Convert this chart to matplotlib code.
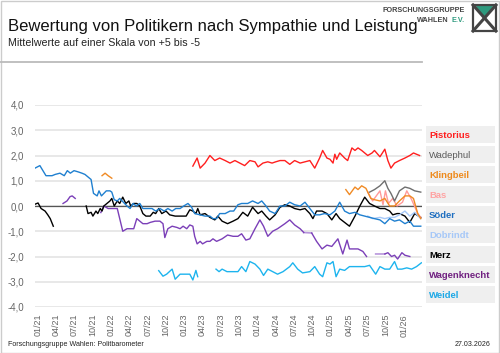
import numpy as np
import matplotlib
matplotlib.use('Agg')
import matplotlib.pyplot as plt
from matplotlib.patches import Rectangle, Polygon
from matplotlib.lines import Line2D

plt.rcParams['font.family'] = ['Liberation Sans', 'DejaVu Sans']

nan = np.nan

# months since 01/2021, values on the +5..-5 scale (nan = gap)
soeder_m = [-0.5, 0.3, 1.3, 2.3, 2.8, 3.6, 4.3, 4.8, 5.3, 5.9, 6.6, 7.2, 7.7, 8.2, 8.7,
            9.1, 9.7, 10.0, 10.4, 10.8, 11.2, 11.8, 12.1, 12.5, 13.0, 13.4, 13.8, 14.2, 14.6, 15.1,
            15.6, 16.1, 16.7, 17.2, 18.0, 18.7, 19.3, 20.0, 20.7, 21.3, 22.0, 22.6, 23.3, 23.9, 24.6,
            25.2, 25.7, 26.6, 27.4, 28.2, 28.7, 29.3, 29.8, 30.7, 31.5, 32.1, 32.8, 33.4, 34.4, 35.2,
            36.1, 36.7, 37.4, 38.0, 38.9, 39.7, 40.5, 41.3, 42.1, 43.0, 43.8, 44.6, 45.4, 46.2, 47.0,
            47.9, 48.7, 49.5, 50.3, 51.1, 52.0, 52.8, 53.6, 54.4, 55.2, 56.1, 56.9, 57.7, 58.5, 59.3,
            60.2, 61.0, 61.6, 62.3, 62.8]
soeder_v = [1.5, 1.6, 1.2, 1.2, 1.25, 1.3, 1.2, 1.4, 1.3, 1.4, 1.35, 1.3, 1.25, 1.15, 1.05,
            0.5, 0.4, 0.6, 0.4, 0.5, 0.6, 0.6, 0.55, 0.25, 0.2, 0.3, 0.2, 0.1, 0.0, -0.1,
            0.1, 0.0, 0.1, -0.1, -0.1, -0.1, -0.2, -0.1, -0.2, -0.1, -0.2, -0.1, -0.1, 0.0, 0.1,
            -0.05, -0.3, -0.35, -0.4, -0.4, -0.5, -0.5, -0.3, -0.3, -0.2, -0.2, 0.05, 0.1, 0.1, 0.2,
            0.1, 0.2, 0.0, -0.2, -0.3, 0.0, 0.0, 0.15, 0.05, 0.0, 0.15, -0.1, -0.35, -0.35, -0.3,
            -0.35, -0.2, 0.15, -0.2, -0.3, -0.25, -0.35, -0.4, -0.45, -0.5, -0.55, -0.7, -0.5, -0.6, -0.55,
            -0.7, -0.6, -0.8, -0.8, -0.8]

merz_m = [-0.5, 0.0, 0.5, 1.15, 1.6, 2.0, 2.5, nan,
          7.9, 8.2, 8.7, 9.0, 9.5, 9.8, 10.2, 10.5, 10.8, 11.3, 11.8, 12.1, 12.5, 13.0, 13.4, 13.9,
          14.4, 14.9, 15.2, 15.7, 16.2, 16.7, 17.2, 17.7, 18.4, 18.9, 19.3, 19.8, 20.3, 21.0, 21.6,
          22.5, 23.3, 24.3, 24.9, 25.4, 25.9, 26.2, 26.6, 27.4, 28.2, 29.0, 29.5, 30.2, 31.1, 32.0,
          32.8, 33.6, 34.4, 35.2, 36.1, 36.7, 37.4, 38.0, 38.9, 39.7, 40.5, 41.3, 42.1, 43.0, 43.8,
          44.6, 45.1, 45.7, 46.6, 47.4, 48.2, 48.9, 49.5, 50.3, 51.1, 52.0, 52.8, 53.6, 54.4, 55.2,
          56.1, 56.9, 57.7, 58.2, 58.9, 59.3, 60.2, 61.0, 61.8, 62.8]
merz_v = [0.07, 0.12, -0.1, -0.2, -0.35, -0.5, -0.8, nan,
          0.0, -0.3, -0.25, -0.4, -0.2, -0.3, -0.1, -0.2, 0.0, 0.1, 0.2, 0.3, 0.0, 0.2, 0.1, 0.35,
          0.1, 0.2, 0.0, 0.1, 0.1, 0.0, -0.3, -0.4, -0.4, -0.25, -0.3, -0.1, -0.3, -0.2, -0.35,
          -0.4, -0.4, -0.4, -0.15, -0.2, -0.3, -0.1, -0.35, -0.3, -0.45, -0.55, -0.4, -0.6, -0.7, -0.6,
          -0.5, -0.25, -0.4, -0.05, -0.3, -0.2, -0.4, -0.55, -0.35, -0.05, 0.05, 0.0, -0.1, -0.15, -0.1,
          -0.3, -0.5, -0.2, -0.2, -0.3, -0.55, -0.3, -0.5, -0.65, -0.8, -0.4, 0.0, 0.35, 0.1, 0.0,
          -0.1, -0.1, -0.2, -0.35, -0.3, -0.3, -0.4, -0.65, -0.3, -0.45]

wagen_m = [4.1, 4.75, 5.25, 5.6, 6.1, nan,
           10.3, 10.8, 11.5, 12.1, 13.0, 13.4, 13.9, 14.6, 15.1, 15.7, 16.2, 16.7, 17.2, 17.9, 18.4,
           19.2, 20.0, 20.5, 20.8, 21.3, 22.0, 22.8, 23.3, 23.8, 24.4, 24.9, 25.4, 25.7, 26.1, 26.6,
           27.0, 27.7, 28.2, 28.7, 29.3, 30.2, 31.1, 32.0, 32.8, 33.4, 34.1, 34.75, 35.6, 36.4, 37.0,
           37.7, 38.5, 39.3, 40.5, 41.3, 42.1, 43.0, 43.6, nan,
           44.9, 45.7, 46.6, 47.4, 48.2, 49.2, 50.0, 50.7, 51.1, 52.5, 53.3, 53.9, nan,
           56.9, 57.4, 58.0, 58.5, 59.0, 59.7, 60.2, 61.0]
wagen_v = [0.1, 0.2, 0.37, 0.4, 0.3, nan,
           -0.26, 0.0, -0.1, -0.1, -0.1, -0.5, -1.0, -0.9, -0.9, -0.9, -0.5, -0.6, -0.7, -0.7, -0.65,
           -0.6, -0.6, -0.7, -1.25, -0.9, -0.8, -0.85, -0.9, -0.8, -0.9, -0.75, -0.8, -1.2, -1.5, -1.4,
           -1.5, -1.4, -1.4, -1.3, -1.4, -1.3, -1.15, -1.2, -1.2, -1.1, -1.35, -1.3, -0.9, -0.55, -0.8,
           -1.2, -1.0, -0.9, -0.7, -0.55, -0.75, -0.9, -1.05, nan,
           -1.07, -1.4, -1.7, -1.55, -1.6, -1.3, -1.9, -1.35, -1.7, -1.7, -1.8, -2.0, nan,
           -1.9, -1.85, -2.0, -1.95, -2.1, -1.85, -1.95, -2.0]
# bridged gaps, drawn lighter
wagen_gap_m = [43.6, 44.9, nan, 55.4, 56.9]
wagen_gap_v = [-1.05, -1.07, nan, -1.9, -1.9]

weidel_m = [19.8, 20.5, 21.1, 22.0, 22.5, 23.3, 24.1, 24.9, 25.4, 25.9, 26.2, nan,
            29.2, 29.7, 30.2, 31.0, 32.0, 32.8, 33.4, 34.1, 34.75, 35.6, 36.4, 37.0, 37.7, 38.5,
            39.3, 40.2, 41.3, 41.8, 42.6, 43.4, 44.6, 45.4, 46.2, 46.7, 47.4, 47.9, 48.4, 48.9,
            49.5, 50.3, 51.1, 52.0, 52.8, 53.6, 54.4, 55.4, 56.1, 56.9, 57.7, 58.5, 59.0, 59.7,
            60.5, 61.3, 62.1, 62.9]
weidel_v = [-2.56, -2.78, -2.7, -2.5, -2.9, -2.7, -2.7, -2.7, -2.93, -2.55, -2.8, nan,
            -2.5, -2.6, -2.5, -2.6, -2.6, -2.6, -2.4, -2.6, -2.2, -2.3, -2.5, -2.75, -2.5, -2.6,
            -2.7, -2.6, -2.4, -2.25, -2.5, -2.65, -2.6, -2.4, -2.7, -2.8, -2.25, -2.3, -2.2, -2.8,
            -2.5, -2.55, -2.4, -2.4, -2.4, -2.4, -2.35, -2.7, -2.4, -2.5, -2.5, -2.2, -2.5, -2.5,
            -2.45, -2.5, -2.4, -2.25]

pist_m = [25.4, 26.1, 26.6, 27.4, 28.2, 29.0, 29.8, 30.7, 31.5, 32.3, 33.1, 33.9, 34.75, 35.6,
          36.1, 36.9, 37.7, 38.4, 39.0, 39.7, 40.5, 41.3, 42.1, 43.0, 43.8, 44.6, 45.4, 46.2,
          46.7, 47.4, 47.9, 48.4, 48.7, 49.0, 49.5, 50.3, 50.8, 51.5, 52.0, 52.5, 53.1, 53.6,
          54.1, 54.8, 55.2, 56.1, 56.9, 57.4, 57.9, 58.5, 59.3, 60.2, 61.0, 61.6, 62.6]
pist_v = [1.58, 1.9, 1.5, 1.7, 2.0, 1.8, 1.9, 1.8, 1.7, 1.8, 1.7, 1.6, 1.8, 1.75,
          1.55, 1.7, 1.75, 1.7, 1.75, 1.8, 1.8, 1.65, 1.8, 1.7, 1.75, 1.8, 1.5, 1.9,
          2.2, 1.9, 1.85, 1.7, 2.05, 1.85, 2.1, 1.9, 1.8, 2.3, 2.2, 2.3, 2.2, 2.1,
          2.0, 2.1, 2.2, 1.95, 2.25, 1.8, 1.5, 1.7, 1.8, 1.9, 2.0, 2.1, 2.0]

wade_m = [54.4, 55.2, 56.1, 56.9, 57.4, 57.9, 58.5, 59.3, 60.2, 61.0, 61.8, 62.8]
wade_v = [0.55, 0.65, 0.8, 1.0, 0.7, 0.5, 0.2, 0.6, 0.75, 0.7, 0.6, 0.55]

kling_m = [10.5, 11.0, 11.5, 12.1, nan,
           50.5, 51.1, 52.0, 52.5, 53.1, 53.8, 54.6, 55.2, 56.1, 56.9, 57.7, 58.5, 59.3, 60.2,
           61.0, 61.6, 62.3, 62.8]
kling_v = [1.2, 1.3, 1.2, 1.1, nan,
           0.65, 0.45, 0.75, 0.65, 0.8, 0.7, 0.3, 0.25, 0.2, 0.3, 0.0, 0.0, 0.2, 0.4,
           0.4, 0.3, -0.3, -0.5]

bas_m = [54.1, 54.9, 56.1, 56.6, 57.0, 57.5, 58.2, 58.9, 59.8, 60.5, 61.3, 62.3, 62.8]
bas_v = [0.55, 0.2, 0.6, 0.05, 0.6, 0.1, 0.3, 0.0, 0.15, 0.6, 0.25, -0.3, -0.45]

dobr_m = [54.1, 54.9, 56.1, 56.9, 57.7, 58.5, 59.3, 60.2, 61.0, 61.8, 62.8]
dobr_v = [-0.4, -0.5, -0.45, -0.5, -0.45, -0.45, -0.35, -0.2, -0.4, -0.25, -0.5]

names = ['Pistorius', 'Wadephul', 'Klingbeil', 'Bas', 'Söder',
         'Dobrindt', 'Merz', 'Wagenknecht', 'Weidel']
line_colors = ['#ff1f1f', '#6e6e6e', '#f08a24', '#ff9a9a', '#2080d0',
               '#a6c8f8', '#000000', '#7b3fb8', '#1db4ee']
text_colors = ['#ff1f1f', '#5a5a5a', '#ee8a1c', '#ffa3a3', '#1f6fc0',
               '#a6c8f8', '#000000', '#702080', '#1ba8e6']
series = [(pist_m, pist_v), (wade_m, wade_v), (kling_m, kling_v), (bas_m, bas_v),
          (soeder_m, soeder_v), (dobr_m, dobr_v), (merz_m, merz_v), (wagen_m, wagen_v),
          (weidel_m, weidel_v)]

tick_months = list(range(0, 61, 3))
tick_labels = ['%02d/%02d' % (1 + m % 12, 21 + m // 12) for m in tick_months]

fig = plt.figure(figsize=(5.0, 3.53), dpi=100)
W, H = 500.0, 353.0

ax = fig.add_axes([35 / W, 1 - 307 / H, 387 / W, 202 / H])
ax.set_xlim(-0.5, 63)
ax.set_ylim(-4, 4)
yt = np.arange(-4, 5)
ax.set_yticks(yt)
ax.set_yticklabels([('%.1f' % v).replace('.', ',') for v in yt])
ax.set_xticks(tick_months)
ax.set_xticklabels(tick_labels, rotation=90)
ax.tick_params(length=0, labelsize=7, colors='#666666')
ax.tick_params(axis='y', pad=8)
ax.tick_params(axis='x', pad=5, labelsize=6.5)
for s in ax.spines.values():
    s.set_visible(False)
ax.grid(axis='y', color='#e6e6e6', lw=1.3)
ax.set_axisbelow(True)
ax.axhline(0, color='#555555', lw=0.9, zorder=1)

ax.plot(wagen_gap_m, wagen_gap_v, color='#b896dc', lw=1.2, zorder=2)
for (m, v), c in reversed(list(zip(series, line_colors))):
    ax.plot(m, v, color=c, lw=1.0, zorder=3)

# legend boxes
for i, (nm, tc) in enumerate(zip(names, text_colors)):
    top = 126 + 20 * i
    fig.patches.append(Rectangle((426 / W, 1 - (top + 17) / H), 69 / W, 17 / H,
                                 transform=fig.transFigure, facecolor='#efefef',
                                 edgecolor='none'))
    fig.text(429 / W, 1 - (top + 9) / H, nm, color=tc, fontsize=6.8,
             fontweight='normal' if nm == 'Wadephul' else 'bold', va='center', ha='left')

# titles
fig.text(8 / W, 1 - 27 / H, 'Bewertung von Politikern nach Sympathie und Leistung',
         fontsize=12, va='center', ha='left', color='#111111')
fig.text(8 / W, 1 - 43 / H, 'Mittelwerte auf einer Skala von +5 bis -5',
         fontsize=7.7, va='center', ha='left', color='#222222')
fig.add_artist(Line2D([0, 422 / W], [1 - 62 / H, 1 - 62 / H], color='#bbbbbb', lw=1.3))

# footer
fig.text(8 / W, 1 - 345 / H, 'Forschungsgruppe Wahlen: Politbarometer',
         fontsize=5.1, va='center', ha='left', color='#222222')
fig.text(491 / W, 1 - 345 / H, '27.03.2026', fontsize=5.1, va='center', ha='right',
         color='#222222')

# logo
fig.text(465 / W, 1 - 11 / H, 'FORSCHUNGSGRUPPE', fontsize=5.2, fontweight='bold',
         ha='right', va='center', color='#444444')
fig.text(449 / W, 1 - 20 / H, 'WAHLEN', fontsize=5.2, fontweight='bold',
         ha='right', va='center', color='#444444')
fig.text(452 / W, 1 - 20 / H, 'E.V.', fontsize=5.2, fontweight='bold',
         ha='left', va='center', color='#2e9a7e')
lx0, lx1, ly0, ly1 = 473 / W, 496 / W, 1 - 31 / H, 1 - 5 / H
fig.patches.append(Polygon([[lx0 + 0.004, ly1], [lx1 - 0.004, ly1], [(lx0 + lx1) / 2, (ly0 + ly1) / 2]],
                           closed=True, transform=fig.transFigure, facecolor='#2e9a7e',
                           edgecolor='none'))
fig.add_artist(Line2D([lx0, lx1], [ly1, ly0], color='#444444', lw=2.2))
fig.add_artist(Line2D([lx0, lx1], [ly0, ly1], color='#444444', lw=2.2))
fig.patches.append(Rectangle((lx0, ly0), lx1 - lx0, ly1 - ly0, transform=fig.transFigure,
                             facecolor='none', edgecolor='#444444', lw=1.6))

# outer frame
fig.patches.append(Rectangle((0.001, 0.001), 0.997, 0.996, transform=fig.transFigure,
                             facecolor='none', edgecolor='#cccccc', lw=1.0))

fig.savefig('out.png', dpi=100)
